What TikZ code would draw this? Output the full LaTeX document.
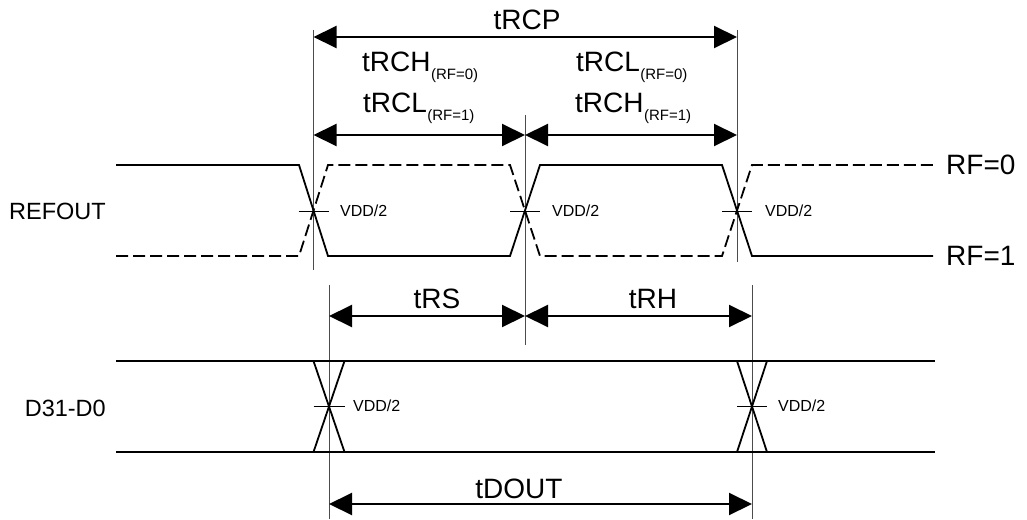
\documentclass[tikz,border=0pt]{standalone}
\usepackage{fontspec}
\setmainfont{Liberation Sans}
\usetikzlibrary{arrows.meta}
\begin{document}
\begin{tikzpicture}[x=1pt,y=-1pt,
  sig/.style={line width=1.8pt},
  dsig/.style={line width=1.8pt, dash pattern=on 12pt off 5pt},
  refl/.style={line width=0.8pt, black!70},
  tickl/.style={line width=0.8pt},
  dimarr/.style={{Triangle[length=23pt,width=22pt]}-{Triangle[length=23pt,width=22pt]}, line width=2pt},
  big/.style={font=\fontsize{28}{28}\selectfont, inner sep=0pt},
  lbl/.style={font=\fontsize{23.5}{23.5}\selectfont, inner sep=0pt},
  small/.style={font=\fontsize{16}{16}\selectfont, inner sep=0pt, anchor=west},
  subs/.style={font=\fontsize{15}{15}\selectfont, inner sep=0pt, anchor=base west}]
\useasboundingbox (0,0) rectangle (1027,519);

% reference verticals
\draw[refl] (313.5,30) -- (313.5,270);
\draw[refl] (737,30) -- (737,262);
\draw[refl] (525,115) -- (525,345);
\draw[refl] (329,285) -- (329,519);
\draw[refl] (752,285) -- (752,519);

% REFOUT waveforms
\draw[sig] (116,165) -- (299,165) -- (328,256) -- (510,256) -- (540,165) -- (722,165) -- (752,256) -- (933,256);
\draw[dsig] (116,256) -- (299,256) -- (328,165) -- (510,165) -- (540,256) -- (722,256) -- (752,165) -- (933,165);

% D31-D0 bus
\draw[sig] (116,361) -- (935,361);
\draw[sig] (116,452) -- (935,452);
\draw[sig] (313.5,361) -- (344.5,452);
\draw[sig] (344.5,361) -- (313.5,452);
\draw[sig] (737,361) -- (767,452);
\draw[sig] (767,361) -- (737,452);

% VDD/2 ticks
\draw[tickl] (298.5,211) -- (328.5,211);
\draw[tickl] (510,211) -- (540,211);
\draw[tickl] (722,211) -- (752,211);
\draw[tickl] (313.5,406) -- (344.5,406);
\draw[tickl] (737,406) -- (767,406);

\node[small] (v1) at (340,211) {VDD/2};
\node[small] (v2) at (552,211) {VDD/2};
\node[small] (v3) at (765,211) {VDD/2};
\node[small] (v4) at (353,406) {VDD/2};
\node[small] (v5) at (778,406) {VDD/2};

% signal labels
\node[lbl, anchor=east] (refout) at (106,211) {REFOUT};
\node[lbl, anchor=east] (dbus) at (106,408) {D31-D0};
\node[big, anchor=west] (rf0) at (946,165) {RF=0};
\node[big, anchor=west] (rf1) at (946,256) {RF=1};

% dimension arrows
\coordinate (a1) at (313.5,37);  \coordinate (a2) at (737,37);
\coordinate (b1) at (313.5,135); \coordinate (b2) at (525,135); \coordinate (b3) at (737,135);
\coordinate (c1) at (329,316);   \coordinate (c2) at (525,316); \coordinate (c3) at (752,316);
\coordinate (d1) at (329,504);   \coordinate (d2) at (752,504);
\draw[dimarr] (a1) -- (a2);
\draw[dimarr] (b1) -- (b2);
\draw[dimarr] (b2) -- (b3);
\draw[dimarr] (c1) -- (c2);
\draw[dimarr] (c2) -- (c3);
\draw[dimarr] (d1) -- (d2);

\node[big, anchor=base] (trcp) at (527,30) {tRCP};
\node[big, anchor=base west] (trch0) at (362,71) {tRCH};
\node[subs] (trch0s) at ([yshift=-8pt]trch0.base east) {(RF=0)};
\node[big, anchor=base west] (trcl0) at (576,71) {tRCL};
\node[subs] (trcl0s) at ([yshift=-8pt]trcl0.base east) {(RF=0)};
\node[big, anchor=base west] (trcl1) at (363,112) {tRCL};
\node[subs] (trcl1s) at ([yshift=-8pt]trcl1.base east) {(RF=1)};
\node[big, anchor=base west] (trch1) at (575,112) {tRCH};
\node[subs] (trch1s) at ([yshift=-8pt]trch1.base east) {(RF=1)};
\node[big, anchor=base] (trs) at (437,308) {tRS};
\node[big, anchor=base] (trh) at (653,308) {tRH};
\node[big, anchor=base] (tdout) at (519,498) {tDOUT};
\end{tikzpicture}
\end{document}
